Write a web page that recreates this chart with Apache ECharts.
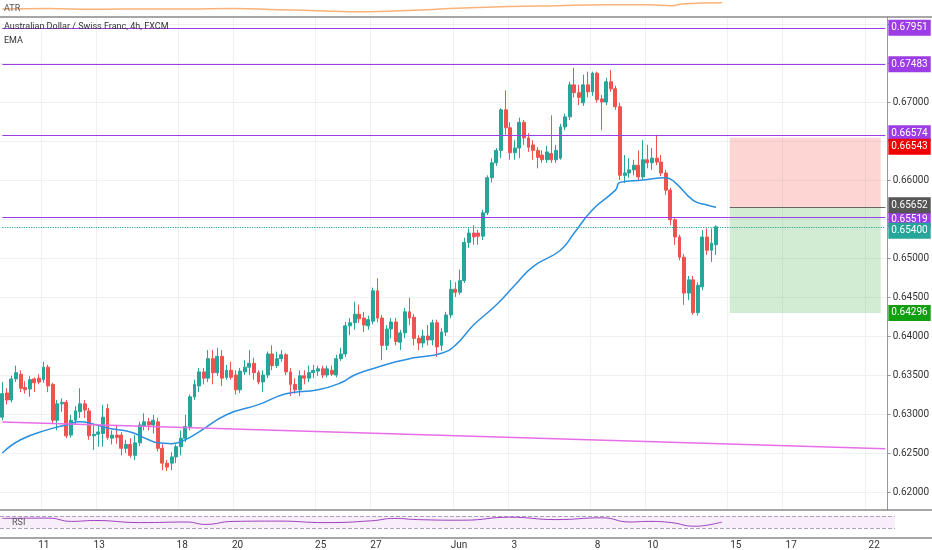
<!DOCTYPE html>
<html>
<head>
<meta charset="utf-8">
<script src="https://cdn.jsdelivr.net/npm/echarts@6/dist/echarts.min.js"></script>
<style>
  html, body { margin: 0; padding: 0; background: #fff; }
  #main { width: 932px; height: 550px; }
</style>
</head>
<body>
<div id="main"></div>
<script>
// trading days on the 4h axis (6 candles per day, first day starts mid-day)
var tradingDays = ['May 7','May 8','May 11','May 12','May 13','May 14','May 15','May 18','May 19','May 20','May 21','May 22',
  'May 25','May 26','May 27','May 28','May 29','Jun 1','Jun 2','Jun 3','Jun 4','Jun 5','Jun 8','Jun 9','Jun 10','Jun 11','Jun 12',
  'Jun 15','Jun 16','Jun 17','Jun 18','Jun 19','Jun 22'];
var axisDays = ['May 11','May 13','May 18','May 20','May 25','May 27','Jun 1','Jun 3','Jun 8','Jun 10','Jun 15','Jun 17','Jun 22'];

// [open, close, low, high]
var candles = [
  [0.6296,0.6326,0.6292,0.6341],[0.6327,0.6318,0.6312,0.6333],[0.6318,0.6345,0.6315,0.6349],[0.6345,0.6353,0.6341,0.6362],
  [0.6351,0.6333,0.6328,0.6356],[0.6334,0.6331,0.6326,0.6342],[0.6332,0.6344,0.6322,0.6349],[0.6345,0.6340,0.6328,0.6347],
  [0.6346,0.6341,0.6338,0.6351],[0.6344,0.6360,0.6340,0.6367],[0.6360,0.6336,0.6328,0.6363],[0.6338,0.6292,0.6288,0.6340],
  [0.6292,0.6313,0.6279,0.6318],[0.6313,0.6315,0.6303,0.6320],[0.6315,0.6272,0.6269,0.6318],[0.6273,0.6292,0.6270,0.6299],
  [0.6292,0.6304,0.6286,0.6310],[0.6303,0.6313,0.6295,0.6333],[0.6313,0.6305,0.6295,0.6318],[0.6304,0.6272,0.6267,0.6308],
  [0.6272,0.6274,0.6254,0.6287],[0.6274,0.6277,0.6258,0.6286],[0.6275,0.6296,0.6258,0.6312],[0.6307,0.6270,0.6267,0.6313],
  [0.6269,0.6273,0.6261,0.6279],[0.6273,0.6270,0.6262,0.6286],[0.6273,0.6256,0.6247,0.6277],[0.6256,0.6261,0.6250,0.6267],
  [0.6261,0.6247,0.6244,0.6269],[0.6247,0.6263,0.6241,0.6273],[0.6263,0.6286,0.6259,0.6290],[0.6284,0.6290,0.6279,0.6301],
  [0.6290,0.6286,0.6279,0.6295],[0.6286,0.6292,0.6275,0.6299],[0.6290,0.6256,0.6252,0.6295],[0.6256,0.6237,0.6228,0.6261],
  [0.6237,0.6232,0.6227,0.6241],[0.6237,0.6245,0.6228,0.6251],[0.6245,0.6258,0.6237,0.6261],[0.6258,0.6269,0.6247,0.6279],
  [0.6269,0.6284,0.6264,0.6299],[0.6284,0.6322,0.6279,0.6325],[0.6322,0.6338,0.6318,0.6344],[0.6336,0.6354,0.6328,0.6359],
  [0.6354,0.6346,0.6338,0.6359],[0.6346,0.6371,0.6341,0.6382],[0.6371,0.6353,0.6338,0.6382],[0.6353,0.6374,0.6349,0.6385],
  [0.6374,0.6346,0.6336,0.6382],[0.6347,0.6356,0.6344,0.6363],[0.6356,0.6347,0.6344,0.6367],[0.6350,0.6331,0.6325,0.6356],
  [0.6331,0.6355,0.6327,0.6359],[0.6354,0.6360,0.6350,0.6369],[0.6360,0.6365,0.6350,0.6382],[0.6365,0.6353,0.6344,0.6372],
  [0.6353,0.6341,0.6338,0.6356],[0.6341,0.6350,0.6328,0.6356],[0.6350,0.6377,0.6346,0.6380],[0.6377,0.6362,0.6356,0.6388],
  [0.6362,0.6371,0.6359,0.6380],[0.6371,0.6376,0.6367,0.6382],[0.6376,0.6354,0.6350,0.6378],[0.6354,0.6338,0.6323,0.6359],
  [0.6338,0.6331,0.6326,0.6346],[0.6331,0.6349,0.6323,0.6356],[0.6349,0.6346,0.6338,0.6356],[0.6346,0.6353,0.6341,0.6362],
  [0.6353,0.6356,0.6346,0.6363],[0.6355,0.6358,0.6349,0.6362],[0.6358,0.6350,0.6346,0.6362],[0.6350,0.6358,0.6347,0.6362],
  [0.6356,0.6351,0.6349,0.6362],[0.6350,0.6371,0.6347,0.6376],[0.6371,0.6377,0.6368,0.6385],[0.6377,0.6413,0.6373,0.6418],
  [0.6413,0.6417,0.6401,0.6423],[0.6417,0.6428,0.6408,0.6444],[0.6428,0.6422,0.6417,0.6440],[0.6423,0.6414,0.6405,0.6431],
  [0.6413,0.6421,0.6408,0.6426],[0.6419,0.6458,0.6415,0.6462],[0.6458,0.6423,0.6418,0.6474],[0.6423,0.6388,0.6369,0.6427],
  [0.6388,0.6409,0.6382,0.6414],[0.6409,0.6418,0.6397,0.6423],[0.6418,0.6393,0.6388,0.6423],[0.6392,0.6404,0.6382,0.6408],
  [0.6404,0.6431,0.6397,0.6436],[0.6431,0.6423,0.6414,0.6449],[0.6424,0.6397,0.6388,0.6428],[0.6397,0.6391,0.6382,0.6401],
  [0.6391,0.6400,0.6385,0.6408],[0.6400,0.6395,0.6388,0.6414],[0.6395,0.6417,0.6388,0.6421],[0.6417,0.6386,0.6373,0.6421],
  [0.6388,0.6405,0.6381,0.6410],[0.6405,0.6427,0.6400,0.6431],[0.6427,0.6460,0.6423,0.6472],[0.6460,0.6456,0.6450,0.6469],
  [0.6456,0.6471,0.6453,0.6485],[0.6471,0.6520,0.6468,0.6526],[0.6520,0.6532,0.6513,0.6538],[0.6532,0.6527,0.6517,0.6542],
  [0.6532,0.6528,0.6517,0.6536],[0.6528,0.6558,0.6523,0.6562],[0.6558,0.6603,0.6555,0.6606],[0.6603,0.6622,0.6597,0.6628],
  [0.6622,0.6638,0.6618,0.6641],[0.6638,0.6690,0.6628,0.6692],[0.6690,0.6667,0.6658,0.6715],[0.6667,0.6635,0.6626,0.6674],
  [0.6635,0.6641,0.6626,0.6651],[0.6641,0.6674,0.6628,0.6680],[0.6674,0.6654,0.6645,0.6677],[0.6654,0.6642,0.6636,0.6660],
  [0.6645,0.6638,0.6626,0.6651],[0.6638,0.6629,0.6615,0.6642],[0.6632,0.6626,0.6622,0.6638],[0.6626,0.6636,0.6622,0.6644],
  [0.6634,0.6626,0.6622,0.6683],[0.6626,0.6638,0.6622,0.6645],[0.6628,0.6668,0.6626,0.6672],[0.6668,0.6681,0.6664,0.6685],
  [0.6681,0.6722,0.6677,0.6726],[0.6722,0.6712,0.6706,0.6744],[0.6712,0.6706,0.6696,0.6722],[0.6699,0.6722,0.6695,0.6735],
  [0.6722,0.6713,0.6706,0.6739],[0.6713,0.6737,0.6708,0.6739],[0.6737,0.6703,0.6699,0.6739],[0.6704,0.6700,0.6664,0.6709],
  [0.6700,0.6726,0.6696,0.6731],[0.6726,0.6717,0.6713,0.6741],[0.6717,0.6694,0.6690,0.6721],[0.6694,0.6606,0.6600,0.6699],
  [0.6606,0.6609,0.6596,0.6632],[0.6609,0.6613,0.6603,0.6628],[0.6613,0.6619,0.6606,0.6626],[0.6619,0.6604,0.6600,0.6638],
  [0.6604,0.6626,0.6600,0.6651],[0.6626,0.6622,0.6615,0.6645],[0.6622,0.6628,0.6613,0.6641],[0.6628,0.6623,0.6619,0.6658],
  [0.6623,0.6609,0.6605,0.6632],[0.6609,0.6587,0.6581,0.6613],[0.6587,0.6549,0.6542,0.6590],[0.6549,0.6527,0.6517,0.6551],
  [0.6527,0.6501,0.6497,0.6530],[0.6501,0.6455,0.6440,0.6505],[0.6455,0.6472,0.6446,0.6477],[0.6472,0.6430,0.6427,0.6477],
  [0.6430,0.6465,0.6426,0.6469],[0.6463,0.6527,0.6459,0.6536],[0.6527,0.6510,0.6504,0.6538],[0.6510,0.6519,0.6495,0.6538],
  [0.6517,0.6540,0.6504,0.6542]
];

// [slot, value]
var emaPoints = [[0,0.6250],[4,0.6267],[10,0.6280],[14,0.6286],[17,0.6290],[20,0.6287],[23,0.6282],[28,0.6277],[32,0.6267],
  [34,0.6263],[37,0.6262],[40,0.6267],[43,0.6277],[49,0.6299],[56,0.6312],[62,0.6326],[69,0.6331],[74,0.6340],[77,0.6350],
  [82,0.6360],[86,0.6367],[90,0.6372],[96,0.6378],[99,0.6388],[103,0.6414],[108,0.6440],[112,0.6465],[116,0.6489],[122,0.6510],
  [125,0.6532],[129,0.6562],[134,0.6587],[135,0.6597],[140,0.6600],[145,0.6603],[147,0.6597],[151,0.6574],[154,0.6568],[156,0.6565]];
var atrPoints = [[0,0.0040],[10,0.0041],[20,0.0039],[30,0.0040],[40,0.0040],[50,0.0041],[60,0.0038],[70,0.0035],[75,0.0033],
  [85,0.0035],[100,0.0042],[110,0.0046],[120,0.0048],[130,0.0050],[140,0.0050],[145,0.0048],[148,0.0053],[156,0.0055]];
var rsiPoints = [[0,62],[10,63],[15,52],[20,55],[30,48],[40,50],[44,42],[50,52],[60,53],[70,48],[80,54],[85,62],[90,58],
  [100,56],[110,66],[120,58],[130,64],[136,50],[140,52],[145,48],[150,36],[153,40],[156,50]];

var resistLevels = [0.67951, 0.67483, 0.66574, 0.65519];
var lastPrice = 0.65400;
var entryPrice = 0.65652, stopPrice = 0.66543, targetPrice = 0.64296;
var trendLine = [0.62897, 0.62554];

var categories = [];
tradingDays.forEach(function(d, j){
  var from = j === 0 ? 3 : 0;
  var to = j === tradingDays.length - 1 ? 4 : 5;
  for (var k = from; k <= to; k++) categories.push(d + '|' + k);
});
var last = categories.length - 1;
var boxFrom = categories.indexOf('Jun 15|0'), boxTo = last - 1;

function isDayTick(i, v) {
  var p = v.split('|');
  return p[1] === '0' && axisDays.indexOf(p[0]) >= 0;
}
function dayText(v) {
  var d = v.split('|')[0];
  return d === 'Jun 1' ? 'Jun' : d.split(' ')[1];
}
var purple = '#9c3ce6';
function badge(bg, v, dy) {
  return { show: true, position: 'end', distance: 3, formatter: v.toFixed(5), offset: [0, dy || 0],
    color: '#fff', backgroundColor: bg, padding: [3, 3], fontSize: 10, fontFamily: 'Roboto' };
}
function hline(v, fromSlot, color, type, bg, dy) {
  var ls = { color: color, width: 1.2, type: type };
  return [{ coord: [fromSlot, v], lineStyle: ls, label: badge(bg, v, dy) }, { coord: [last, v], lineStyle: ls }];
}
var hideLabels = ['0.65500','0.66500','0.67500','0.68000','0.61500'];
var clear = 'rgba(0,0,0,0)';

var chart = echarts.init(document.getElementById('main'));
chart.setOption({
  animation: false,
  backgroundColor: '#fff',
  grid: [
    { left: 0, right: 37, top: 0, bottom: 19 },
    { left: 0, right: 37, top: 0, height: 17 },
    { left: 0, right: 37, top: 510, height: 28 }
  ],
  xAxis: [
    { type: 'category', data: categories, gridIndex: 0, axisLine: { show: false }, axisTick: { show: false },
      axisLabel: { show: false }, splitLine: { show: true, interval: isDayTick, lineStyle: { color: '#eef0f4' } } },
    { type: 'category', data: categories, gridIndex: 1, show: false },
    { type: 'category', data: categories, gridIndex: 2, axisLine: { show: false }, axisTick: { show: false },
      axisLabel: { interval: isDayTick, formatter: dayText, color: '#333', fontSize: 10, margin: 6, fontFamily: 'Roboto' },
      splitLine: { show: false } }
  ],
  yAxis: [
    { type: 'value', gridIndex: 0, position: 'right', min: 0.615, max: 0.68308, interval: 0.005,
      axisLine: { show: true, lineStyle: { color: '#9598a1' } }, axisTick: { show: true, length: 3, lineStyle: { color: '#9598a1' } },
      axisLabel: { color: '#333', fontSize: 10, margin: 5, fontFamily: 'Roboto', showMaxLabel: false,
        formatter: function(v){ var s = v.toFixed(5); return hideLabels.indexOf(s) >= 0 ? '' : s; } },
      splitLine: { lineStyle: { color: '#eef0f4' } } },
    { type: 'value', gridIndex: 1, min: 0.0020, max: 0.0062, show: false },
    { type: 'value', gridIndex: 2, min: 10, max: 90, show: false }
  ],
  graphic: [
    { type: 'rect', shape: { x: 0, y: 0, width: 895, height: 17 }, style: { fill: '#fff' }, z: 1 },
    { type: 'rect', shape: { x: 0, y: 510, width: 895, height: 28 }, style: { fill: '#fff' }, z: 1 },
    { type: 'line', shape: { x1: 0, y1: 17, x2: 932, y2: 17 }, style: { stroke: '#888', lineWidth: 1.5 }, z: 10 },
    { type: 'line', shape: { x1: 0, y1: 510, x2: 932, y2: 510 }, style: { stroke: '#888', lineWidth: 1.5 }, z: 10 },
    { type: 'line', shape: { x1: 0, y1: 538, x2: 932, y2: 538 }, style: { stroke: '#888', lineWidth: 1.5 }, z: 10 },
    { type: 'text', left: 4, top: 4, style: { text: 'ATR', fill: '#555', fontSize: 9, fontFamily: 'Roboto' }, z: 10 },
    { type: 'text', left: 4, top: 22, style: { text: 'Australian Dollar / Swiss Franc, 4h, FXCM', fill: '#333', fontSize: 9, fontFamily: 'Roboto' }, z: 10 },
    { type: 'text', left: 4, top: 36, style: { text: 'EMA', fill: '#333', fontSize: 9, fontFamily: 'Roboto' }, z: 10 },
    { type: 'text', left: 12, top: 518, style: { text: 'RSI', fill: '#555', fontSize: 9, fontFamily: 'Roboto' }, z: 10 }
  ],
  series: [
    { type: 'candlestick', xAxisIndex: 0, yAxisIndex: 0, data: candles, barWidth: 3.4, z: 3,
      itemStyle: { color: '#26a69a', color0: '#ef5350', borderColor: '#26a69a', borderColor0: '#ef5350', borderWidth: 1 },
      markArea: { silent: true, data: [
        [{ xAxis: boxFrom, yAxis: stopPrice, itemStyle: { color: 'rgba(244,67,54,0.22)' } }, { xAxis: boxTo, yAxis: entryPrice }],
        [{ xAxis: boxFrom, yAxis: entryPrice, itemStyle: { color: 'rgba(76,175,80,0.25)' } }, { xAxis: boxTo, yAxis: targetPrice }]
      ] },
      markLine: { silent: true, symbol: 'none', labelLayout: { hideOverlap: false },
        data: [
          hline(resistLevels[0], 0, purple, 'solid', purple, 0),
          hline(resistLevels[1], 0, purple, 'solid', purple, 0),
          hline(resistLevels[2], 0, purple, 'solid', purple, -2),
          hline(resistLevels[3], 0, purple, 'solid', purple, 2),
          hline(lastPrice, 0, '#26a69a', 'dotted', '#26a69a', 4),
          hline(entryPrice, boxFrom, '#666', 'solid', '#555', -2),
          hline(stopPrice, boxFrom, clear, 'solid', '#f00000', 9),
          hline(targetPrice, boxFrom, clear, 'solid', '#10a010', 0),
          [{ coord: [0, trendLine[0]], lineStyle: { color: '#e86ee8', width: 1.5, type: 'solid' }, label: { show: false } },
           { coord: [last, trendLine[1]], lineStyle: { color: '#e86ee8', width: 1.5, type: 'solid' } }]
        ] }
    },
    { type: 'line', xAxisIndex: 0, yAxisIndex: 0, data: emaPoints, smooth: true, showSymbol: false, z: 4,
      lineStyle: { color: '#2b8fe0', width: 1.5 } },
    { type: 'line', xAxisIndex: 1, yAxisIndex: 1, data: atrPoints, smooth: true, showSymbol: false, z: 5,
      lineStyle: { color: '#f9b27a', width: 1.5 } },
    { type: 'line', xAxisIndex: 2, yAxisIndex: 2, data: rsiPoints, smooth: true, showSymbol: false, z: 5,
      lineStyle: { color: '#a040c0', width: 1 },
      markArea: { silent: true, itemStyle: { color: 'rgba(156,39,176,0.08)' }, data: [[{ yAxis: 30 }, { yAxis: 70 }]] },
      markLine: { silent: true, symbol: 'none', label: { show: false },
        lineStyle: { color: '#b0a0c0', type: 'dashed', width: 1 }, data: [{ yAxis: 30 }, { yAxis: 70 }] } }
  ]
});
</script>
</body>
</html>
